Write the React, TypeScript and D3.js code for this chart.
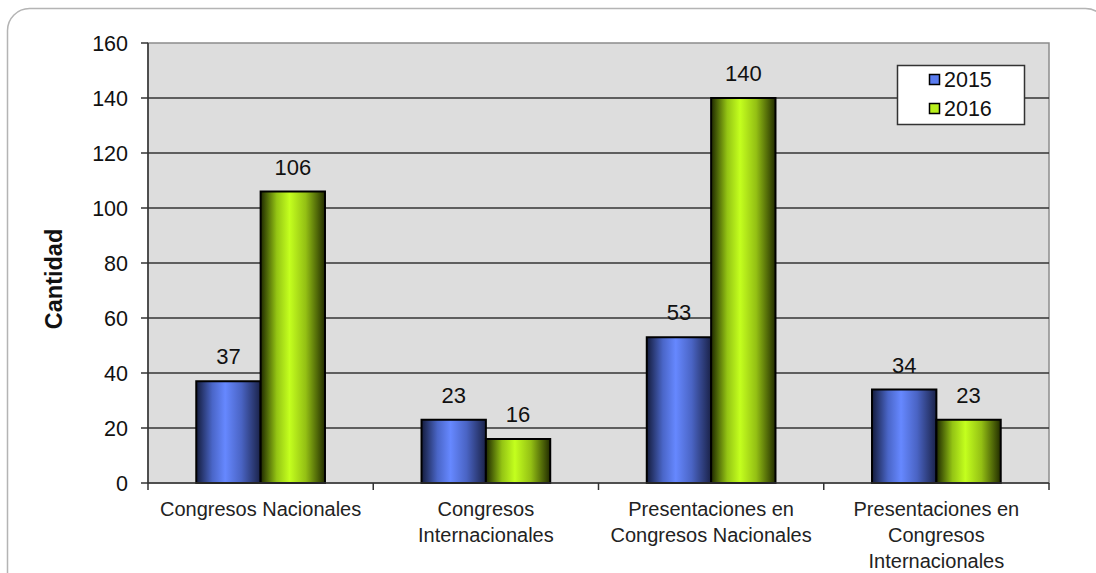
import React from "react";
import * as d3 from "d3";

const categories: string[][] = [
  ["Congresos Nacionales"],
  ["Congresos", "Internacionales"],
  ["Presentaciones en", "Congresos Nacionales"],
  ["Presentaciones en", "Congresos", "Internacionales"],
];
const seriesNames = ["2015", "2016"];
const values2015 = [37, 23, 53, 34];
const values2016 = [106, 16, 140, 23];
const yTicks = [0, 20, 40, 60, 80, 100, 120, 140, 160];

const W = 1096;
const H = 573;
const plot = { left: 148, right: 1049, top: 43, bottom: 483 };
const font = "'Liberation Sans', Arial, sans-serif";

export default function App() {
  const keys = categories.map((_, i) => String(i));
  const x = d3.scaleBand<string>().domain(keys).range([plot.left, plot.right]).paddingInner(0).paddingOuter(0);
  const x1 = d3.scaleBand<string>().domain(seriesNames).range([0, x.bandwidth()]).paddingInner(0).paddingOuter(0.75);
  const y = d3.scaleLinear().domain([0, 160]).range([plot.bottom, plot.top]);
  const series = [values2015, values2016];
  const fills = ["url(#gBlue)", "url(#gGreen)"];

  return (
    <svg width={W} height={H} style={{ position: "absolute", left: 0, top: 0 }} fontFamily={font}>
      <defs>
        <linearGradient id="gBlue" x1="0" x2="1" y1="0" y2="0">
          <stop offset="0" stopColor="#141c3c" />
          <stop offset="0.25" stopColor="#4a66c8" />
          <stop offset="0.45" stopColor="#6688ff" />
          <stop offset="0.7" stopColor="#4a64c4" />
          <stop offset="1" stopColor="#1a2248" />
        </linearGradient>
        <linearGradient id="gGreen" x1="0" x2="1" y1="0" y2="0">
          <stop offset="0" stopColor="#1e2800" />
          <stop offset="0.25" stopColor="#94c414" />
          <stop offset="0.45" stopColor="#c4ff1e" />
          <stop offset="0.7" stopColor="#94c014" />
          <stop offset="1" stopColor="#222c00" />
        </linearGradient>
      </defs>
      <rect x={0} y={0} width={W} height={H} fill="#ffffff" />
      <rect x={7.5} y={8.5} width={1100} height={590} rx={22} ry={22} fill="#ffffff" stroke="#b4b4b4" strokeWidth={1.5} />

      {/* plot background */}
      <rect x={plot.left} y={plot.top} width={plot.right - plot.left} height={plot.bottom - plot.top} fill="#dddddd" stroke="#8c8c8c" strokeWidth={1.5} />

      {/* horizontal gridlines */}
      {yTicks.filter((t) => t > 0 && t < 160).map((t) => (
        <line key={t} x1={plot.left} x2={plot.right} y1={y(t)} y2={y(t)} stroke="#333" strokeWidth={1.3} />
      ))}

      {/* bars */}
      {keys.map((k, i) => (
        <g key={k} transform={`translate(${x(k)},0)`}>
          {series.map((vals, s) => (
            <rect
              key={s}
              x={x1(seriesNames[s])}
              y={y(vals[i])}
              width={x1.bandwidth()}
              height={plot.bottom - y(vals[i])}
              fill={fills[s]}
              stroke="#000"
              strokeWidth={2}
            />
          ))}
          {series.map((vals, s) => (
            <text
              key={"l" + s}
              x={(x1(seriesNames[s]) as number) + x1.bandwidth() / 2}
              y={y(vals[i]) - 17}
              textAnchor="middle"
              fontSize={22}
              fill="#111"
            >
              {vals[i]}
            </text>
          ))}
        </g>
      ))}

      {/* axes */}
      <line x1={plot.left} x2={plot.left} y1={plot.top} y2={plot.bottom} stroke="#333" strokeWidth={1.5} />
      <line x1={plot.left} x2={plot.right} y1={plot.bottom} y2={plot.bottom} stroke="#333" strokeWidth={1.5} />
      {yTicks.map((t) => (
        <g key={t}>
          <line x1={plot.left - 7} x2={plot.left} y1={y(t)} y2={y(t)} stroke="#333" strokeWidth={1.5} />
          <text x={plot.left - 20} y={y(t) + 8} textAnchor="end" fontSize={21.5} fill="#111">
            {t}
          </text>
        </g>
      ))}
      {[plot.left, ...keys.map((k) => (x(k) as number) + x.bandwidth())].map((xv, i) => (
        <line key={i} x1={xv} x2={xv} y1={plot.bottom} y2={plot.bottom + 7} stroke="#333" strokeWidth={1.5} />
      ))}

      {/* category labels */}
      {categories.map((lines, i) => (
        <text key={i} textAnchor="middle" fontSize={20} fill="#222">
          {lines.map((ln, j) => (
            <tspan key={j} x={(x(keys[i]) as number) + x.bandwidth() / 2} y={516 + j * 26}>
              {ln}
            </tspan>
          ))}
        </text>
      ))}

      {/* y axis title */}
      <text transform={`translate(62,279) rotate(-90)`} textAnchor="middle" fontSize={23.5} fontWeight="bold" fill="#111">
        Cantidad
      </text>

      {/* legend */}
      <rect x={897.5} y={65.5} width={127} height={59} fill="#ffffff" stroke="#333" strokeWidth={1.5} />
      {seriesNames.map((s, i) => (
        <g key={s}>
          <rect x={929.5} y={74.5 + i * 29} width={10} height={10} fill={i === 0 ? "#5a7cf0" : "#b8f01c"} stroke="#000" strokeWidth={1.5} />
          <text x={944} y={87 + i * 29} fontSize={21.5} fill="#111">
            {s}
          </text>
        </g>
      ))}
    </svg>
  );
}
